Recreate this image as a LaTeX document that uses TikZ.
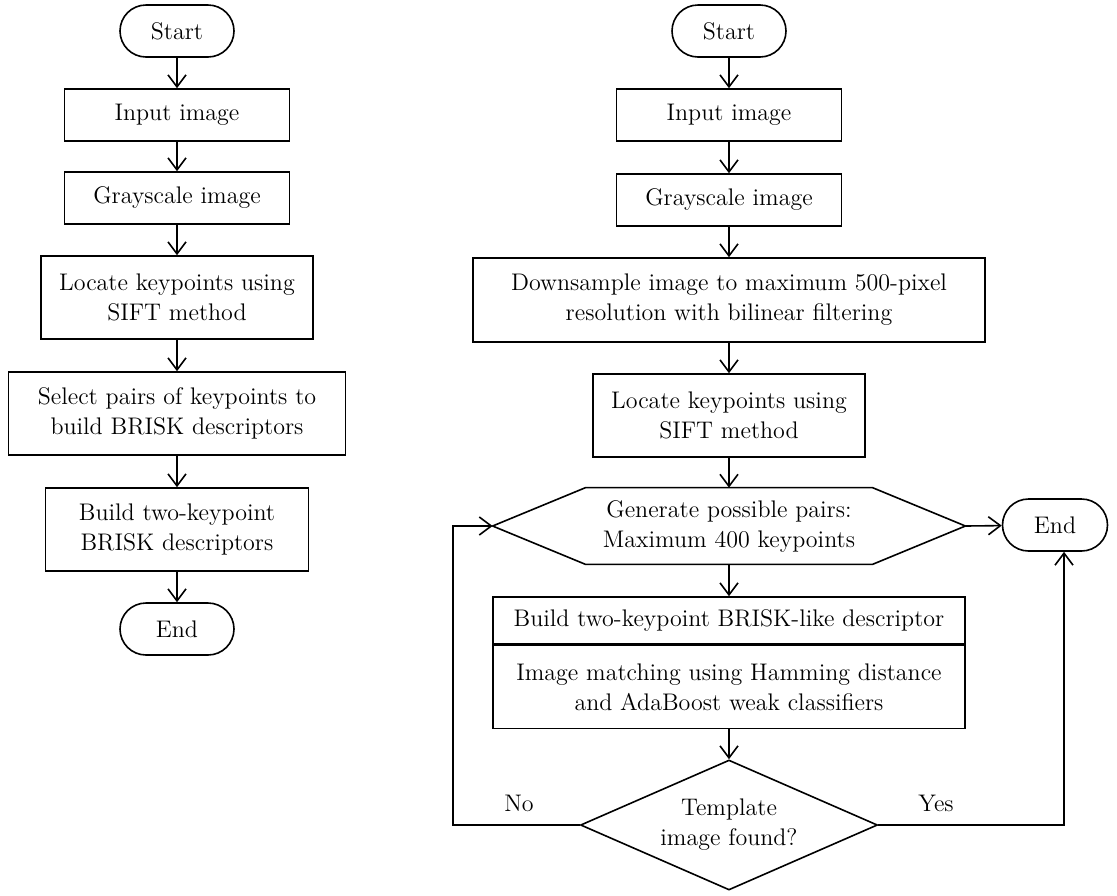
\documentclass[tikz,border=0pt]{standalone}
\usetikzlibrary{arrows.meta,shapes.misc,shapes.geometric,calc}
\begin{document}
\begin{tikzpicture}[x=0.5pt,y=-0.5pt,
  every node/.style={font=\fontsize{12}{15}\selectfont, align=center, inner sep=1pt},
  box/.style={draw, line width=0.8pt, rectangle, minimum height=26pt},
  term/.style={draw, line width=0.8pt, rounded rectangle, minimum width=59pt, minimum height=26pt},
  arr/.style={draw, line width=0.8pt, -{Straight Barb[length=6pt,width=9pt,line width=0.8pt]}},
  ln/.style={line width=0.8pt}]
\useasboundingbox (0,0) rectangle (1117,895);
% left column
\node[term] (s1) at (177,31) {Start};
\node[box, minimum width=112.5pt] (i1) at (177,115) {Input image};
\node[box, minimum width=112.5pt] (g1) at (177,198) {Grayscale image};
\node[box, minimum width=136pt, minimum height=41.5pt] (l1) at (177,297.5) {Locate keypoints using\\SIFT method};
\node[box, minimum width=168.5pt, minimum height=41.5pt] (p1) at (177,413.5) {Select pairs of keypoints to\\build BRISK descriptors};
\node[box, minimum width=131.5pt, minimum height=41.5pt] (b1) at (177,529.5) {Build two-keypoint\\BRISK descriptors};
\node[term] (e1) at (177,629) {End};
\draw[arr] (s1) -- (i1);
\draw[arr] (i1) -- (g1);
\draw[arr] (g1) -- (l1);
\draw[arr] (l1) -- (p1);
\draw[arr] (p1) -- (b1);
\draw[arr] (b1) -- (e1);
% right column
\node[term] (s2) at (729,31) {Start};
\node[box, minimum width=112.5pt] (i2) at (729,115) {Input image};
\node[box, minimum width=112.5pt] (g2) at (729,200) {Grayscale image};
\node[box, minimum width=256pt, minimum height=42pt] (d2) at (729,300) {Downsample image to maximum 500-pixel\\resolution with bilinear filtering};
\node[box, minimum width=136pt, minimum height=41.5pt] (l2) at (729,415.5) {Locate keypoints using\\SIFT method};
\node[minimum width=236pt, minimum height=38pt] (h2) at (729,526) {Generate possible pairs:\\Maximum 400 keypoints};
\draw[ln] (h2.west) -- ($(h2.north west)+(93,0)$) -- ($(h2.north east)+(-93,0)$) -- (h2.east) -- ($(h2.south east)+(-93,0)$) -- ($(h2.south west)+(93,0)$) -- cycle;
\node[term, minimum width=54.5pt] (e2) at (1055,525) {End};
\node[box, minimum width=236pt, minimum height=23.5pt] (ba) at (729,620.5) {Build two-keypoint BRISK-like descriptor};
\node[box, minimum width=236pt, minimum height=41.5pt, anchor=north] (bb) at (ba.south) {Image matching using Hamming distance\\and AdaBoost weak classifiers};
\node[draw, line width=0.8pt, diamond, aspect=2.28, minimum width=148.5pt, minimum height=65pt] (dm) at (729,825) {Template\\image found?};
\coordinate (lp) at (453,825);
\draw[arr] (s2) -- (i2);
\draw[arr] (i2) -- (g2);
\draw[arr] (g2) -- (d2);
\draw[arr] (d2) -- (l2);
\draw[arr] (l2) -- (h2.north);
\draw[arr] (h2.south) -- (ba);
\draw[arr] (bb) -- (dm);
\draw[arr] (h2.east) -- (e2);
\draw[arr] (dm.west) -- (lp) |- (h2.west);
\draw[arr] (dm.east) -| ([xshift=4.5pt]e2.south);
\node (no) at (519,803) {No};
\node (yes) at (936,803) {Yes};
\end{tikzpicture}
\end{document}
